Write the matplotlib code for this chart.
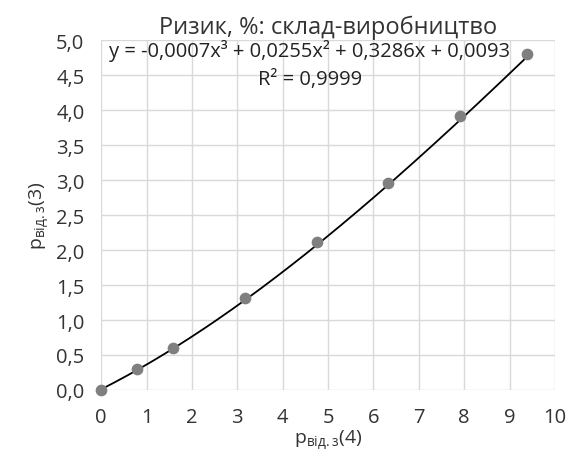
import matplotlib
matplotlib.use("Agg")
import matplotlib.pyplot as plt
import numpy as np
from matplotlib.ticker import FuncFormatter

plt.rcParams['font.family'] = ['Open Sans', 'DejaVu Sans']
plt.rcParams['mathtext.fontset'] = 'custom'
plt.rcParams['mathtext.rm'] = 'Open Sans'

# data
p_vid_4 = [0, 0.78, 1.58, 3.16, 4.75, 6.33, 7.9, 9.38]
p_vid_3 = [0, 0.30, 0.60, 1.31, 2.11, 2.96, 3.91, 4.80]
# trendline coefficients from the label (x^3, x^2, x, const)
coefs = [-0.0007, 0.0255, 0.3286, 0.0093]
r2 = 0.9999

title = "Ризик, %: склад-виробництво"
xlabel = "$\\mathregular{p_{від.з}(4)}$"
ylabel = "$\\mathregular{p_{від.з}(3)}$"

fig = plt.figure(figsize=(5.78, 4.52), dpi=100)
ax = fig.add_axes([0.175, 0.135, 0.785, 0.774])

xs = np.linspace(0, max(p_vid_4), 200)
ax.plot(xs, np.polyval(coefs, xs), color='black', lw=1.3, zorder=3)
ax.scatter(p_vid_4, p_vid_3, s=55, color='#7f7f7f', zorder=4, clip_on=False)

ax.set_xlim(0, 10)
ax.set_ylim(0, 5)
ax.set_xticks(range(0, 11))
ax.set_yticks(np.arange(0, 5.01, 0.5))
ax.yaxis.set_major_formatter(FuncFormatter(lambda v, p: f"{v:.1f}".replace('.', ',')))
ax.grid(True, color='#d9d9d9', lw=1)
for s in ax.spines.values():
    s.set_visible(False)
ax.tick_params(length=0, labelsize=14.5, colors='#333333')
ax.tick_params(axis='y', pad=12)
ax.tick_params(axis='x', pad=12)
ax.set_axisbelow(True)

ax.set_title(title, fontsize=17, color='#333333', pad=5)
ax.set_xlabel(xlabel, fontsize=14, color='#333333', labelpad=1)
ax.set_ylabel(ylabel, fontsize=14, color='#333333', labelpad=4)

eq = "y = -{}x³ + {}x² + {}x + {}".format(*[f"{c:.4f}".replace('.', ',').replace('-', '') for c in coefs])
ax.text(4.6, 4.86, eq, ha='center', va='center', fontsize=14.5, color='#222222')
ax.text(4.6, 4.45, f"R² = {r2:.4f}".replace('.', ','), ha='center', va='center', fontsize=14.5, color='#222222')

fig.savefig("out.png", dpi=100)
